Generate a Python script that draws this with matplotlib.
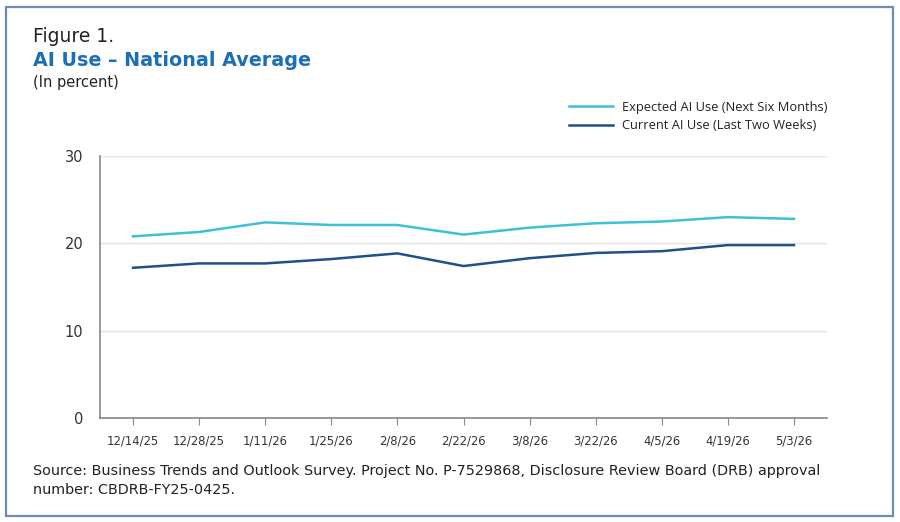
import matplotlib
matplotlib.use('Agg')
import matplotlib.pyplot as plt
from matplotlib.patches import Rectangle

plt.rcParams['font.family'] = ['DejaVu Sans']

dates = ['12/14/25', '12/28/25', '1/11/26', '1/25/26', '2/8/26', '2/22/26',
         '3/8/26', '3/22/26', '4/5/26', '4/19/26', '5/3/26']
expected = [20.8, 21.3, 22.4, 22.1, 22.1, 21.0, 21.8, 22.3, 22.5, 23.0, 22.8]
current = [17.2, 17.7, 17.7, 18.2, 18.85, 17.4, 18.3, 18.9, 19.1, 19.8, 19.8]
yticks = [0, 10, 20, 30]

cyan = '#3fbfd8'
navy = '#1f4f8c'

fig = plt.figure(figsize=(9, 5.22), dpi=100)
fig.patches.append(Rectangle((6 / 900, 6 / 522), 887 / 900, 509 / 522,
                             transform=fig.transFigure, fill=False,
                             edgecolor='#6a8cbb', linewidth=1.6))

ax = fig.add_axes([100 / 900, 104 / 522, 727 / 900, 262 / 522])
x = list(range(len(dates)))
ax.plot(x, expected, color=cyan, linewidth=1.8,
        label='Expected AI Use (Next Six Months)')
ax.plot(x, current, color=navy, linewidth=1.8,
        label='Current AI Use (Last Two Weeks)')

ax.set_xlim(-0.5, len(dates) - 0.5)
ax.set_ylim(0, 30)
ax.set_yticks(yticks)
ax.set_xticks(x)
ax.set_xticklabels(dates, fontsize=8.4, color='#333333')
ax.tick_params(axis='y', length=0, labelsize=10.5, colors='#333333', pad=12)
ax.tick_params(axis='x', length=5, color='#888888', pad=7)
ax.grid(axis='y', color='#e4e4e4', linewidth=1)
ax.set_axisbelow(True)
for s in ['top', 'right']:
    ax.spines[s].set_visible(False)
for s in ['left', 'bottom']:
    ax.spines[s].set_color('#888888')
    ax.spines[s].set_linewidth(1.2)

fig.legend(loc='upper left', bbox_to_anchor=(557 / 900, 1 - 89 / 522),
           frameon=False, prop={'family': 'Open Sans', 'size': 9.3},
           handlelength=3.4, handletextpad=0.7,
           labelspacing=0.45, labelcolor='#222222')

fig.text(33 / 900, 1 - 37 / 522, 'Figure 1.', fontsize=13.5, color='#222222',
         va='center')
fig.text(33 / 900, 1 - 61 / 522, 'AI Use \u2013 National Average', fontsize=13.8,
         fontweight='bold', color='#1c6fb5', va='center')
fig.text(33 / 900, 1 - 82 / 522, '(In percent)', fontsize=10.5, color='#222222',
         va='center')
fig.text(33 / 900, 1 - 471 / 522,
         'Source: Business Trends and Outlook Survey. Project No. P-7529868, '
         'Disclosure Review Board (DRB) approval', fontsize=10.4, color='#222222',
         va='center')
fig.text(33 / 900, 1 - 490 / 522, 'number: CBDRB-FY25-0425.', fontsize=10.4,
         color='#222222', va='center')

fig.savefig('out.png', dpi=100)
